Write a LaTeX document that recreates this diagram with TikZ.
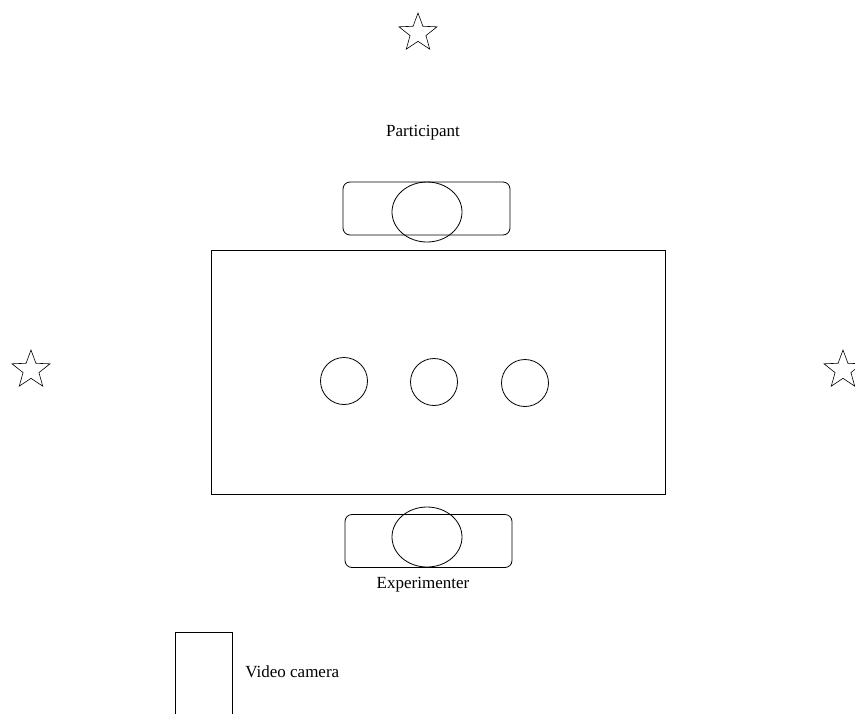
\documentclass[tikz,border=0pt]{standalone}
\usepackage{fontspec}
\setmainfont{Liberation Serif}
\usetikzlibrary{shapes.geometric,positioning}

\begin{document}
\begin{tikzpicture}[
  x=1pt, y=-1pt,
  line width=0.8pt,
  seat/.style={draw, rounded corners=7pt, minimum width=167pt, minimum height=53pt, inner sep=0pt},
  head/.style={draw, ellipse, minimum width=70pt, minimum height=60pt, inner sep=0pt},
  item/.style={draw, circle, minimum size=47pt, inner sep=0pt},
  lamp/.style={draw, star, star points=5, star point ratio=2.4, minimum size=40pt, inner sep=0pt, line width=0.6pt},
  lbl/.style={font=\fontsize{17}{20}\selectfont, inner sep=0pt}
]
\useasboundingbox (0,0) rectangle (855,713);
% lights
\node[lamp] (lamptop) at (418,33) {};
\node[lamp] (lampleft) at (31,370) {};
\node[lamp] (lampright) at (843,370) {};
% table with objects
\node[draw, minimum width=454pt, minimum height=244pt, inner sep=0pt] (table) at (438,372) {};
\node[item] (obja) at (344,381) {};
\node[item] (objb) at (434,382) {};
\node[item] (objc) at (525,383) {};
% participant
\node[lbl] (plbl) at (423,133) {Participant};
\node[seat] (pseat) at (426.5,208.5) {};
\node[head] (phead) at (427,212) {};
% experimenter
\node[seat] (eseat) at (428.5,541) {};
\node[head] (ehead) at (427,537) {};
\node[lbl] (elbl) at (423,585) {Experimenter};
% camera
\node[draw, minimum width=57pt, minimum height=110pt, inner sep=0pt, anchor=north west] (camera) at (175,632) {};
\node[lbl, anchor=west] (camlbl) at (245,672) {Video camera};
\end{tikzpicture}
\end{document}
